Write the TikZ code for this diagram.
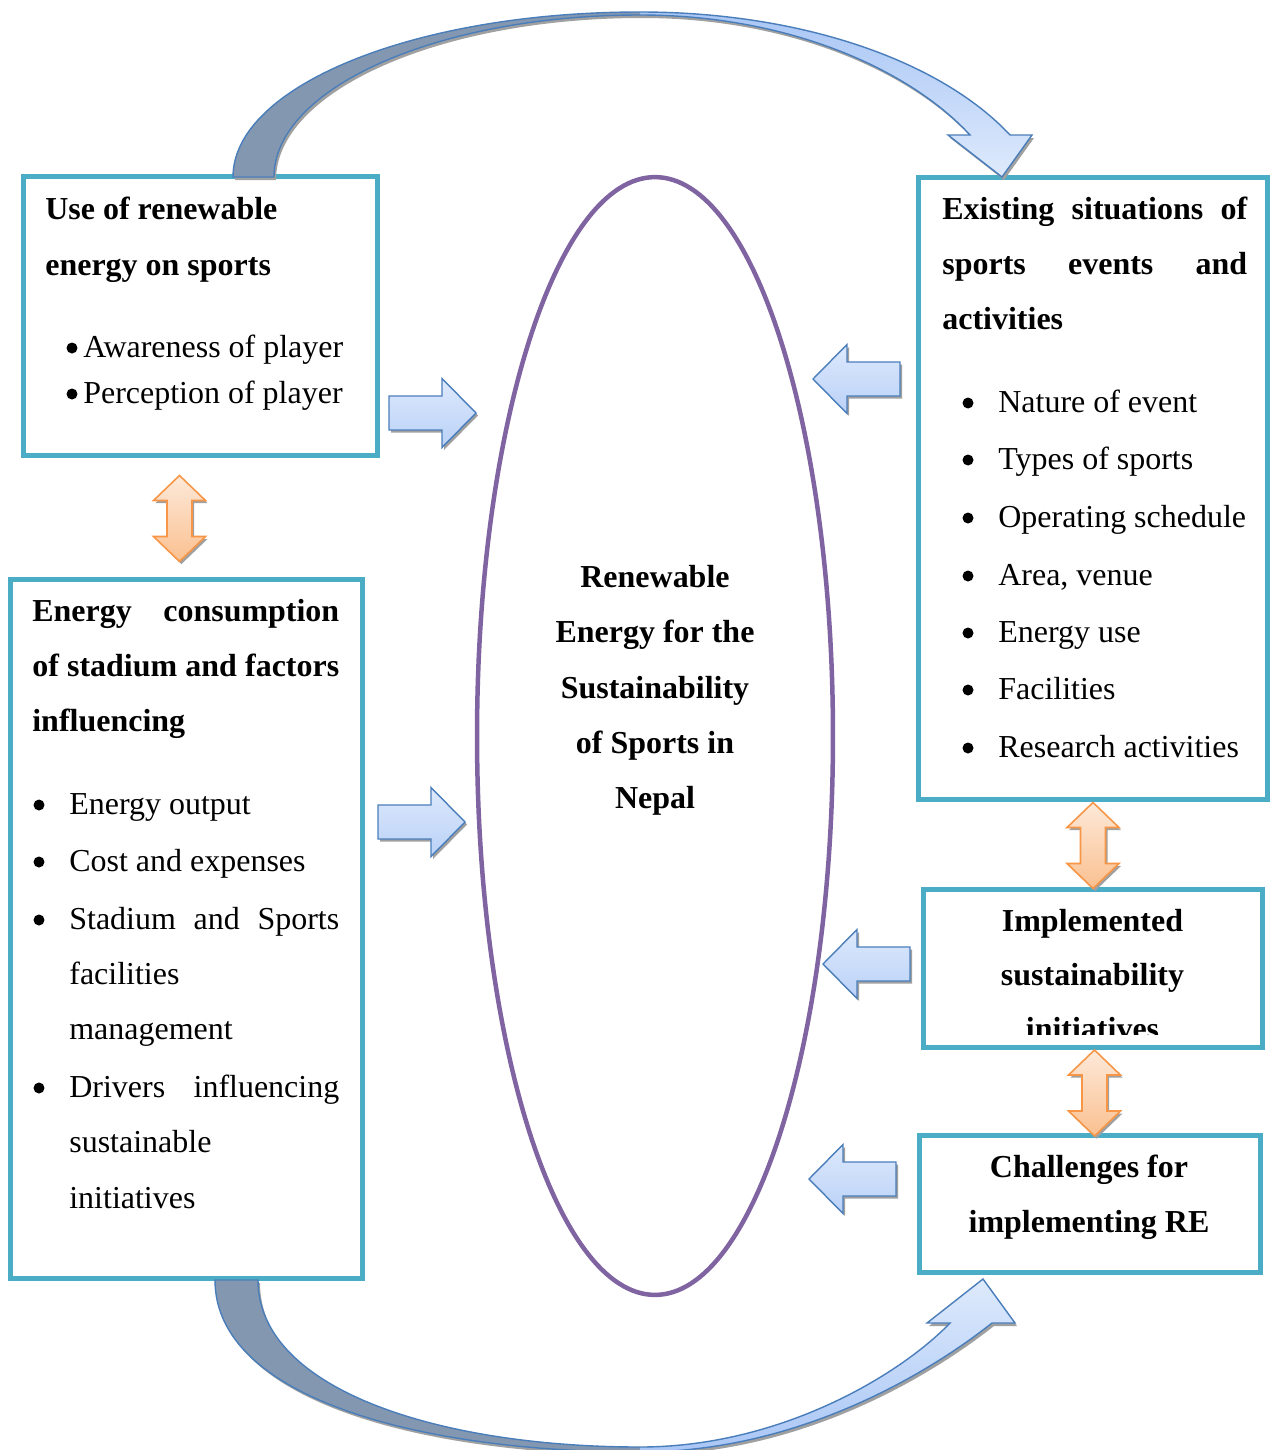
\documentclass[tikz,border=0pt]{standalone}
\usepackage{fontspec}
\setmainfont{Liberation Serif}
\usetikzlibrary{shapes.geometric}
\definecolor{boxc}{HTML}{4BACC6}
\definecolor{ellc}{HTML}{8064A2}
\definecolor{arrb}{HTML}{4A7EBB}
\definecolor{arrtop}{HTML}{DDE9FC}
\definecolor{arrbot}{HTML}{BAD1F7}
\definecolor{darkarr}{HTML}{8497B0}
\definecolor{curvdeep}{HTML}{A9C6F5}
\definecolor{curvlite}{HTML}{DEEAFC}
\definecolor{orb}{HTML}{F79646}
\definecolor{ortop}{HTML}{FDE9D9}
\definecolor{orbot}{HTML}{FAC090}
\definecolor{shad}{HTML}{A0A0A0}
\newcommand\fs{\fontsize{18.2pt}{22pt}\selectfont}
\def\pathTop{(233,177) .. controls (233,86) and (415,12) .. (640,12) .. controls (800,12) and (940,60) .. (1010,135) -- (1032,135) -- (1002,177) -- (948,135) -- (970,135) .. controls (910,70) and (790,15) .. (640,15) .. controls (438,15) and (274,88) .. (274,177) -- cycle}
\def\pathBot{(215,1280) .. controls (215,1398) and (420,1452) .. (640,1452) .. controls (800,1452) and (930,1372) .. (992,1323) -- (1015,1323) -- (983,1279) -- (927,1323) -- (950,1323) .. controls (900,1375) and (780,1447) .. (640,1447) .. controls (440,1447) and (258,1390) .. (258,1280) -- cycle}
\tikzset{
  rarrow/.pic={
    \fill[shad, shift={(2,2.5)}] (0,-17) -- (53,-17) -- (53,-34.5) -- (87,0) -- (53,34.5) -- (53,17) -- (0,17) -- cycle;
    \shadedraw[top color=arrtop, bottom color=arrbot, draw=arrb, line width=0.8pt] (0,-17) -- (53,-17) -- (53,-34.5) -- (87,0) -- (53,34.5) -- (53,17) -- (0,17) -- cycle;
  },
  larrow/.pic={
    \fill[shad, shift={(2,2.5)}] (0,-17) -- (-53,-17) -- (-53,-34.5) -- (-87,0) -- (-53,34.5) -- (-53,17) -- (0,17) -- cycle;
    \shadedraw[top color=arrtop, bottom color=arrbot, draw=arrb, line width=0.8pt] (0,-17) -- (-53,-17) -- (-53,-34.5) -- (-87,0) -- (-53,34.5) -- (-53,17) -- (0,17) -- cycle;
  },
  dblarrow/.pic={
    \fill[shad, shift={(2,2.5)}] (0,-43) -- (26,-18) -- (12.5,-18) -- (12.5,18) -- (26,18) -- (0,43) -- (-26,18) -- (-12.5,18) -- (-12.5,-18) -- (-26,-18) -- cycle;
    \shadedraw[top color=ortop, bottom color=orbot, draw=orb, line width=0.9pt] (0,-43) -- (26,-18) -- (12.5,-18) -- (12.5,18) -- (26,18) -- (0,43) -- (-26,18) -- (-12.5,18) -- (-12.5,-18) -- (-26,-18) -- cycle;
  }
}
\begin{document}
\begin{tikzpicture}[x=0.02cm,y=-0.02cm,
  box/.style={draw=boxc, line width=2.85pt, fill=white, rectangle, inner sep=0pt},
  txt/.style={anchor=base west, inner sep=0pt, font=\fs},
  btxt/.style={anchor=base west, inner sep=0pt, font=\fs\bfseries},
  ctxt/.style={anchor=base, inner sep=0pt, font=\fs\bfseries},
  bul/.style={fill=black}]
\useasboundingbox (0,0) rectangle (1271,1450);
\fill[white] (0,0) rectangle (1271,1450);

% boxes
\node[box, minimum width=7.08cm, minimum height=5.58cm] (use) at (200.5,316) {};
\node[box, minimum width=7.05cm, minimum height=13.99cm] (cons) at (186.25,928.75) {};
\node[box, minimum width=6.98cm, minimum height=12.45cm] (exist) at (1093,488.25) {};
\node[box, minimum width=6.78cm, minimum height=3.16cm] (impl) at (1093,968.5) {};
\node[box, minimum width=6.82cm, minimum height=2.74cm] (chal) at (1090,1204) {};

% central ellipse
\node[ellipse, draw=ellc, line width=2.56pt, minimum width=7.12cm, minimum height=22.36cm, inner sep=0pt] (core) at (655,736) {};
\node[ctxt] (k1) at (655,587) {Renewable};
\node[ctxt] (k2) at (655,642) {Energy for the};
\node[ctxt] (k3) at (655,698) {Sustainability};
\node[ctxt] (k4) at (655,753) {of Sports in};
\node[ctxt] (k5) at (655,808) {Nepal};

% box 1 text
\node[btxt] (u1) at (45,219) {Use of renewable};
\node[btxt] (u2) at (45,275) {energy on sports};
\fill[bul] (72,348) circle [radius=0.11cm];
\node[txt] (u3) at (83,357) {Awareness of player};
\fill[bul] (72,394) circle [radius=0.11cm];
\node[txt] (u4) at (83,403) {Perception of player};

% box 2 text
\node[btxt] (c1) at (32,621) {\makebox[6.14cm][s]{Energy consumption}};
\node[btxt] (c2) at (32,676) {\makebox[6.14cm][s]{of stadium and factors}};
\node[btxt] (c3) at (32,731) {influencing};
\fill[bul] (39,805) circle [radius=0.11cm];
\node[txt] (c4) at (69,814) {Energy output};
\fill[bul] (39,862) circle [radius=0.11cm];
\node[txt] (c5) at (69,871) {Cost and expenses};
\fill[bul] (39,920) circle [radius=0.11cm];
\node[txt] (c6) at (69,929) {\makebox[5.4cm][s]{Stadium and Sports}};
\node[txt] (c7) at (69,984) {facilities};
\node[txt] (c8) at (69,1039) {management};
\fill[bul] (39,1088) circle [radius=0.11cm];
\node[txt] (c9) at (69,1097) {\makebox[5.4cm][s]{Drivers influencing}};
\node[txt] (c10) at (69,1152) {sustainable};
\node[txt] (c11) at (69,1208) {initiatives};

% box 3 text
\node[btxt] (e1) at (942,219) {\makebox[6.1cm][s]{Existing situations of}};
\node[btxt] (e2) at (942,274) {\makebox[6.1cm][s]{sports events and}};
\node[btxt] (e3) at (942,329) {activities};
\foreach \yy/\tt/\nn in {412/Nature of event/e4, 469/Types of sports/e5, 527/Operating schedule/e6, 585/{Area, venue}/e7, 642/Energy use/e8, 699/Facilities/e9, 757/Research activities/e10}{
  \fill[bul] (968,\yy-9) circle [radius=0.11cm];
  \node[txt] (\nn) at (998,\yy) {\tt};
}

% box 4 text
\node[ctxt] (i1) at (1092.5,931) {Implemented};
\node[ctxt] (i2) at (1092.5,985) {sustainability};
\begin{scope}
  \clip (926,893) rectangle (1260,1034);
  \node[ctxt] (i3) at (1092.5,1039) {initiatives};
\end{scope}

% box 5 text
\node[ctxt] (h1) at (1089,1177) {Challenges for};
\node[ctxt] (h2) at (1089,1232) {implementing RE};

% straight block arrows
\pic (a1) at (389,413) {rarrow};
\pic (a2) at (378,822) {rarrow};
\pic (a3) at (900,379) {larrow};
\pic (a4) at (910,964) {larrow};
\pic (a5) at (896,1179) {larrow};

% double arrows
\pic (d1) at (179.5,518.5) {dblarrow};
\pic (d2) at (1093,845.5) {dblarrow};
\pic (d3) at (1094.5,1093) {dblarrow};

% top curved arrow
\fill[shad, shift={(2,3)}] \pathTop;
\begin{scope}
  \clip (0,0) rectangle (640,300);
  \fill[darkarr] \pathTop;
\end{scope}
\begin{scope}
  \clip (640,0) rectangle (1100,300);
  \shade[top color=curvdeep, bottom color=curvlite] \pathTop;
\end{scope}
\draw[arrb, line width=0.8pt] \pathTop;

% bottom curved arrow
\fill[shad, shift={(2,3)}] \pathBot;
\begin{scope}
  \clip (0,1200) rectangle (640,1500);
  \fill[darkarr] \pathBot;
\end{scope}
\begin{scope}
  \clip (640,1200) rectangle (1100,1500);
  \shade[top color=curvlite, bottom color=curvdeep] \pathBot;
\end{scope}
\draw[arrb, line width=0.8pt] \pathBot;
\end{tikzpicture}
\end{document}
